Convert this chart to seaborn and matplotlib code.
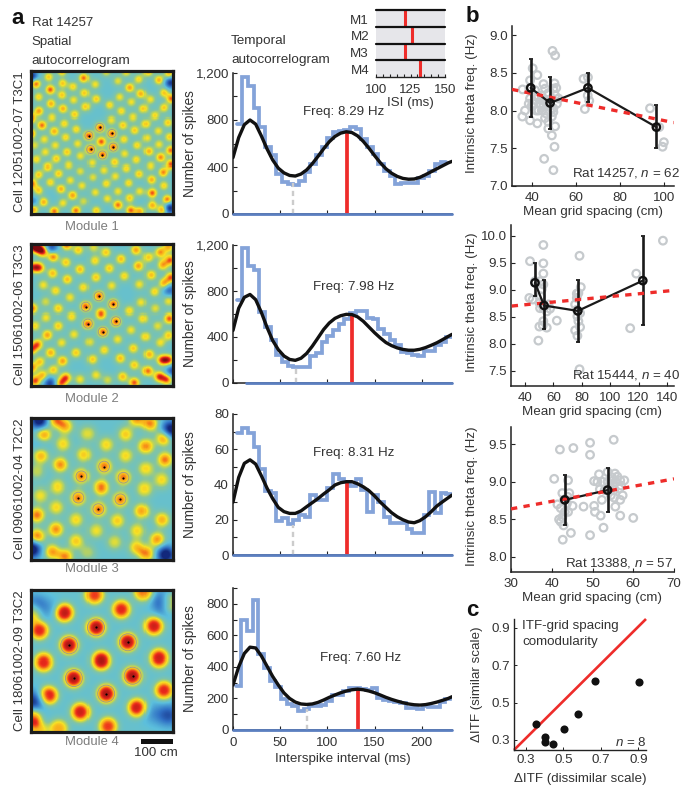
import numpy as np
import matplotlib
matplotlib.use("Agg")
import matplotlib.pyplot as plt
from matplotlib.colors import LinearSegmentedColormap
from matplotlib.ticker import MultipleLocator
import seaborn as sns

W, H = 681, 786

# spatial autocorrelograms: peaks (x, y, height), map pixels x3
m1_origin = (22, 20)
m1_peaks = [(37,58,1.0),(80,76,1.0),(180,41,.95),(115,20,.85),(75,38,.7),(117,57,.7),(148,67,.65),(212,60,.6),(280,50,.55),(315,70,.85),
    (342,45,.65),(400,47,.8),(430,28,.8),(368,22,.8),(305,22,.7),(245,22,.6),(45,98,.65),(115,92,.7),(182,86,.7),(215,104,.7),
    (285,98,.6),(348,88,.8),(415,85,.7),(437,103,.95),(375,105,.6),(82,118,.8),(150,107,.6),(255,122,.65),(320,113,.6),(46,140,.85),
    (118,133,.8),(185,127,.7),(290,140,.65),(355,133,.7),(415,130,.7),(22,160,1),(85,158,.6),(153,150,.7),(260,165,.6),(325,157,.6),
    (388,153,.65),(427,172,.7),(55,180,.95),(122,175,.65),(295,180,.7),(362,176,.7),(158,192,.65),(22,205,1),(92,198,.8),(330,195,.7),
    (398,197,.6),(62,222,.6),(126,216,.65),(298,222,.65),(365,218,.6),(432,215,.7),(162,235,.6),(32,240,.55),(95,240,.6),(337,240,.65),
    (400,237,.6),(65,260,.6),(130,260,.7),(300,265,.6),(370,258,.8),(435,255,.95),(170,272,.6),(38,282,.65),(98,280,.7),(405,276,.9),
    (335,283,.65),(203,292,.6),(270,290,.7),(436,296,1),(72,303,.75),(135,298,.6),(375,300,.6),(305,307,.65),(238,312,.6),(45,325,.7),
    (105,322,.7),(170,315,.55),(343,323,.7),(413,318,.9),(205,333,.55),(272,330,.6),(80,348,.65),(140,342,.6),(378,340,.8),(25,352,.95),
    (312,350,.65),(245,352,.65),(175,358,.6),(415,358,.65),(112,368,.8),(45,372,.7),(280,375,.6),(345,375,.6),(212,378,.6),(147,387,.85),
    (380,380,1),(25,395,.6),(60,407,.8),(248,397,.6),(118,410,.6),(180,405,.5),(315,395,.7),(425,400,1),(280,416,.95),(380,417,.8),
    (30,430,.85),(92,435,.95),(157,433,.95),(215,433,.7),(318,432,.95),(345,435,.8),(410,430,.9)]
m1_rings = [(230,229),(226,187),(262,205),(266,245),(234,268),(199,252),(194,211)]
m1_dips = [(25,35,-.9),(435,55,-.9),(432,425,-1.),(25,400,-.8)]

m2_origin = (23, 22)
m2_peaks = [(45,35,1.0),(60,45,1),(30,30,1),(130,25,.95),(90,60,.95),(165,40,.7),(208,32,.55),(245,47,.7),(335,40,.85),(405,47,.85),
    (370,62,.7),(430,30,.8),(435,70,.95),(128,77,.7),(212,72,.65),(290,67,.75),(342,88,.85),(412,85,.8),(28,92,.9),(48,93,1),
    (88,110,.75),(170,98,.75),(255,95,.7),(300,118,.65),(378,115,.75),(437,122,.95),(132,128,.75),(215,122,.7),(417,140,.85),(60,145,.6),
    (180,152,.65),(262,147,.6),(345,143,.6),(388,165,.65),(97,162,.65),(140,182,.6),(350,197,.6),(430,193,.6),(67,195,.5),(27,215,.95),
    (105,215,.7),(315,222,.65),(390,215,.55),(145,237,.65),(68,240,.6),(355,243,.65),(432,243,1),(105,265,.7),(35,265,.65),(397,265,.55),
    (320,277,.6),(152,290,.6),(72,292,.85),(430,293,.7),(362,297,.65),(197,313,.55),(115,315,.6),(280,305,.6),(405,315,.6),(43,320,.9),
    (327,332,.7),(240,337,.65),(158,345,.7),(25,335,.9),(82,345,.8),(372,350,.8),(288,362,.75),(205,365,.7),(118,370,.85),(410,367,1),
    (430,367,1),(50,372,.7),(25,390,.9),(330,382,.7),(90,397,.7),(368,400,.95),(215,412,.6),(295,417,.75),(58,413,.75),(128,420,.95),
    (250,427,.5),(402,417,1.05),(425,425,1),(330,435,1),(112,437,.9),(35,430,1),(170,425,.6)]
m2_rings = [(230,230),(224,178),(267,202),(275,252),(236,283),(192,259),(186,209)]
m2_dips = [(85,32,-.7),(80,437,-.8),(432,160,-.6),(440,400,-.7)]

m3_origin = (97, 55)
m3_peaks = [(135,105,.95),(265,102,.55),(378,104,.7),(490,115,1),(170,60,.9),(200,80,.8),(410,58,.85),(450,72,.9),(193,133,.65),(320,135,.65),
    (437,140,.9),(127,168,.8),(255,165,.7),(378,168,.65),(493,180,.95),(185,195,.9),(437,207,.65),(125,285,.6),(115,215,.45),(177,260,.65),
    (483,240,.65),(433,266,.65),(173,320,.65),(425,331,.85),(115,343,.95),(232,357,.65),(353,360,.7),(484,357,.8),(172,386,.9),(290,390,.6),
    (412,390,.65),(470,417,.9),(115,408,1),(232,421,.7),(345,424,.55),(160,453,.85),(200,468,.9),(410,440,.7),(440,460,.85),(265,455,.4)]
m3_rings = [(305,262),(314,200),(371,233),(362,297),(297,326),(238,292),(247,229)]
m3_dips = [(122,62,-1.2),(100,445,-1.3),(510,90,-1.2),(495,462,-1.2),(125,130,-.2)]

m4_origin = (97, 572)
m4_peaks = [(197,640,1.05),(365,630,.95),(122,693,.95),(460,680,1.0),(285,587,.9),(135,787,.95),(475,775,1.0),(150,885,1.0),(490,870,.95),(245,935,1.0),
    (412,922,1.02),(325,978,.9),(100,950,.9),(508,610,.9),(100,640,.8),(430,578,.8),(180,985,.7),(120,990,.6)]
m4_rings = [(305,782),(290,684),(384,728),(398,827),(320,880),(225,834),(211,737)]
m4_dips = [(102,905,-.9),(490,610,-.9),(110,620,-.6),(505,945,-.7),(150,625,-.2),(460,940,-.3)]

module_peaks = [m1_peaks, m2_peaks, m3_peaks, m4_peaks]
module_rings = [m1_rings, m2_rings, m3_rings, m4_rings]
module_dips = [m1_dips, m2_dips, m3_dips, m4_dips]
module_origins = [m1_origin, m2_origin, m3_origin, m4_origin]
module_sigmas = [3.5, 3.9, 5.6, 7.0]
module_shapes = [1.0, 1.0, 1.1, 1.4]
module_gains = [.86, .86, .85, 1.0]
module_ring_sizes = [33, 42, 60, 150]
module_ring_heights = [1.0, 1.0, .95, 1.08]
cell_names = ["Cell 12051002-07 T3C1", "Cell 15061002-06 T3C3", "Cell 09061002-04 T2C2", "Cell 18061002-09 T3C2"]

# temporal autocorrelograms
curve_t = [0,6,12,18,24,30,36,42,48,54,60,66,72,78,84,90,96,102,108,114,120,126,132,138,144,150,156,162,168,174,180,186,192,198,204,210,216,222,228,232]
curve_1 = [480,650,760,800,765,665,555,460,390,350,328,323,340,375,428,490,555,615,660,688,700,693,665,618,560,497,437,385,347,320,303,296,298,312,335,360,385,410,435,448]
curve_2 = [457,650,745,770,725,615,485,370,290,235,205,197,215,257,320,392,465,522,562,585,597,595,575,537,487,437,392,352,325,305,292,285,285,293,308,328,350,377,405,423]
curve_3 = [30,44,52,54,51.6,45,38,32,27,24.6,23.6,23.6,25,27.4,29.7,32,34.6,37,39.7,41,41.6,41.6,40.4,38.7,36.5,33.5,30,27,24,21.7,20,18.7,18.3,19.5,21.7,24.6,27.8,30.2,32.5,34]
curve_4 = [285,400,485,525,520,470,405,340,285,235,200,177,165,162,165,175,190,207,222,236,247,255,259,255,247,236,222,207,194,183,173,165,160,158,161,168,177,188,200,211]

hist_1 = [770,1170,1090,900,740,570,500,340,275,255,250,285,355,425,500,570,650,700,710,715,740,725,640,570,510,425,370,325,255,260,260,260,310,325,370,425,440]
hist_2 = [720,1170,1020,985,615,485,370,243,185,150,143,143,143,235,263,357,405,457,515,557,605,628,628,565,557,470,430,370,330,270,257,243,235,280,280,330,357,400]
hist_3 = [69,72,69,61,49,36.5,35,19.5,21,17.5,20,22.7,21.4,34,31,31,38,46,43,41.6,39,43,37,24.6,34,30,21.7,18,18,18,14.7,12.7,12.7,22.7,36,23.6,35,34.6]
hist_4 = [280,695,628,827,480,390,310,275,194,162,152,120,130,152,152,158,186,221,221,249,264,264,257,253,264,200,190,186,179,169,141,141,135,152,148,143,179,194]
hist_starts = [4, 4, 4, 3]
bin_width = 6

peak_isi = [121, 126, 121, 132.5]
peak_heights = [700, 597, 41.6, 259]
trough_isi = [64, 67, 64, 78]
trough_heights = [260, 140, 17, 130]
freq_labels = ["Freq: 8.29 Hz", "Freq: 7.98 Hz", "Freq: 8.31 Hz", "Freq: 7.60 Hz"]
spike_ymax = [1200, 1200, 80, 900]
spike_major = [400, 400, 20, 200]
spike_minor = [200, 200, 10, 100]

# inset
inset_labels = ["M1", "M2", "M3", "M4"]
inset_isi = [121, 126, 121, 132]

# panel b
b1_x = [49.3,50.5,40.3,42.4,35.7,39.1,38.8,45.2,50.2,49.7,45.9,41.4,44.4,47.4,50.5,52.0,44.1,47.4,39.1,40.6,36.8,42.9,49.7,35.6,39.1,42.4,46.4,49.0,47.4,50.5,47.4,49.0,50.2,45.5,49.7,
        47.7,45.2,39.8,43.6,46.7,48.2,49.7,45.9,41.4,38.5,47.9,49.0,51.3,42.9,45.2,41.9,44.4,63.4,65.4,66.0,64.0,65.3,93.6,99.9,99.3,97.8,51.0]
b1_y = [8.79,8.73,8.56,8.47,8.28,8.40,8.29,8.35,8.36,8.29,8.29,8.27,8.20,8.23,8.20,8.16,8.14,8.14,8.16,8.09,8.00,8.00,8.03,7.92,7.87,7.83,7.96,7.92,7.85,7.79,7.76,7.67,7.52,7.36,7.21,
        8.06,8.07,8.06,8.09,8.06,8.00,7.98,7.90,8.19,8.09,8.09,8.16,8.09,8.19,8.14,8.00,8.00,8.42,8.44,8.13,8.02,8.20,8.03,7.58,7.52,7.78,8.30]
b2_x = [52.9,137.2,43.5,52.9,52.9,78.4,118.4,50.6,47,79.3,76.5,76.5,43,52.9,51.8,75.3,50.6,52.9,56.5,57.6,55.3,62.4,52.9,50.1,55.3,52.5,77.6,78.8,75.3,76.9,49.4,114.1,78.4,50.1,76.5,78.8,76.9,45.4,77.6,51.1]
b2_y = [9.83,9.91,9.53,9.49,9.30,9.63,9.30,9.16,9.16,9.05,8.93,8.85,8.85,9.10,9.01,8.73,8.66,8.66,8.73,8.65,8.60,8.43,8.42,8.32,8.30,8.34,8.42,8.31,8.25,8.15,8.06,8.29,7.53,8.76,8.63,8.57,8.51,8.82,8.94,8.88]
b3_x = [42.0,45.3,49.4,49.4,55.2,40.6,44,51.6,53.7,55.5,50.4,51.2,52.5,54.5,56.1,56.8,57.8,42.6,44.3,57.4,55.3,56.8,52.3,41.4,45.1,47.8,50.4,55.6,42.2,44,50.6,52,56.8,60,41.8,42.6,42.2,42.9,52.7,44.7,49.4,42.7,43,43.7,53.7,54.3,55.7,54.5,53,55.3,56.6,57.0,54.8,43.2,43.9,55.0,51.8]
b3_y = [9.43,9.45,9.52,9.36,9.56,9.04,9.02,9.10,9.13,9.11,9.01,9.0,9.0,9.01,9.07,9.02,9.02,8.85,8.85,8.82,8.79,8.76,8.76,8.70,8.68,8.67,8.68,8.67,8.65,8.60,8.60,8.55,8.55,8.52,8.50,8.53,8.47,8.42,8.39,8.32,8.29,8.23,8.76,8.71,9.0,8.89,9.0,8.82,8.89,8.89,8.91,8.95,9.06,8.60,8.80,8.95,8.90]

b1_mean_x = [39.4, 48.2, 65.4, 96.5]
b1_mean_y = [8.30, 8.10, 8.30, 7.78]
b1_err_lo = [7.91, 7.76, 8.11, 7.50]
b1_err_hi = [8.68, 8.45, 8.50, 8.07]
b2_mean_x = [47, 53.4, 77.2, 123]
b2_mean_y = [9.13, 8.71, 8.61, 9.17]
b2_err_lo = [8.88, 8.27, 8.04, 8.34]
b2_err_hi = [9.49, 9.18, 9.18, 9.99]
b3_mean_x = [43.2, 53.7]
b3_mean_y = [8.76, 8.89]
b3_err_lo = [8.42, 8.60]
b3_err_hi = [9.09, 9.19]

b1_fit_x, b1_fit_y = [30.9, 104.4], [8.28, 7.84]
b2_fit_x, b2_fit_y = [30.6, 145], [8.70, 8.99]
b3_fit_x, b3_fit_y = [30, 70], [8.64, 9.04]

b_titles = ["Rat 14257, $\\mathit{n}$ = 62", "Rat 15444, $\\mathit{n}$ = 40", "Rat 13388, $\\mathit{n}$ = 57"]

# panel c
c_x = [0.352, 0.40, 0.402, 0.446, 0.502, 0.58, 0.671, 0.905]
c_y = [0.384, 0.314, 0.289, 0.279, 0.361, 0.4375, 0.616, 0.609]

TEXT = "#333333"
RED = "#ee2c2a"
BLUE = "#84a3d9"
GRAY = "#c6cacd"

sns.set_theme(style="ticks")
plt.rcParams["font.family"] = ["Liberation Sans", "DejaVu Sans"]
plt.rcParams["mathtext.fontset"] = "custom"
plt.rcParams["mathtext.it"] = "Liberation Sans:italic"
plt.rcParams["mathtext.rm"] = "Liberation Sans"
plt.rcParams["font.size"] = 9.6
plt.rcParams["axes.labelsize"] = 9.6
plt.rcParams["xtick.labelsize"] = 9.6
plt.rcParams["ytick.labelsize"] = 9.6
plt.rcParams["text.color"] = TEXT
plt.rcParams["axes.labelcolor"] = TEXT
plt.rcParams["xtick.labelcolor"] = TEXT
plt.rcParams["ytick.labelcolor"] = TEXT

fig = plt.figure(figsize=(W / 100, H / 100), dpi=100)


def px_axes(left, top, right, bottom):
    return fig.add_axes([left / W, 1 - bottom / H, (right - left) / W, (bottom - top) / H])


def put(x, y, s, **kw):
    kw.setdefault("va", "center")
    fig.text(x / W, 1 - y / H, s, **kw)


map_cmap = LinearSegmentedColormap.from_list("map", [
    (0.00, "#12287c"), (0.20, "#2f6fc4"), (0.42, "#5cbfdc"), (0.55, "#84c4a0"),
    (0.635, "#c4d650"), (0.69, "#f6e126"), (0.78, "#f9ab1a"), (0.875, "#ec2a1c"), (1.00, "#7e0a10")])


def build_field(i):
    origin = module_origins[i]
    sigma = module_sigmas[i]
    cells = np.arange(140) + 0.5
    xx, yy = np.meshgrid(cells, cells)
    field = np.zeros_like(xx)
    rings = [(r[0], r[1], module_ring_heights[i]) for r in module_rings[i]]
    for px, py, amp in module_peaks[i] + rings:
        cx, cy = (px - origin[0]) / 3, (py - origin[1]) / 3
        d2 = ((xx - cx) ** 2 + (yy - cy) ** 2) / (2 * sigma ** 2)
        field += module_gains[i] * amp * np.exp(-d2 ** module_shapes[i])
    for px, py, amp in module_dips[i]:
        cx, cy = (px - origin[0]) / 3, (py - origin[1]) / 3
        field += amp * np.exp(-((xx - cx) ** 2 + (yy - cy) ** 2) / (2 * (sigma * 1.1) ** 2))
    return field


map_boxes = [(30.5, 70.5, 173, 213.5), (30.5, 243.5, 173, 385.5), (30.5, 417.5, 173, 559.5), (30.5, 589.5, 173, 731.5)]
module_label_y = [227, 399, 569, 742]
for i, box in enumerate(map_boxes):
    ax = px_axes(*box)
    sns.heatmap(build_field(i), ax=ax, cmap=map_cmap, vmin=-1.0, vmax=1.2, cbar=False, xticklabels=False, yticklabels=False)
    rx = [(r[0] - module_origins[i][0]) / 3 for r in module_rings[i]]
    ry = [(r[1] - module_origins[i][1]) / 3 for r in module_rings[i]]
    ax.scatter(rx[1:], ry[1:], s=module_ring_sizes[i], facecolor="none", edgecolor="#a09c88", linewidth=0.7)
    ax.scatter(rx[1:], ry[1:], s=2.5, color="black", linewidth=0)
    for side in ax.spines.values():
        side.set_visible(True)
        side.set_color("#1c1c1c")
        side.set_linewidth(2.3)
    ax.set_ylabel(cell_names[i], fontsize=9.5, labelpad=0)
    ax.yaxis.set_label_coords(-0.03, 0.5)
    put(92, module_label_y[i], "Module %d" % (i + 1), ha="center", color="#7d7d7d", fontsize=9.4)

# scale bar
scale_ax = px_axes(141, 739, 173, 744)
scale_ax.set_facecolor("#111111")
scale_ax.set_xticks([])
scale_ax.set_yticks([])
sns.despine(ax=scale_ax, left=True, bottom=True)
put(156, 753, "100 cm", ha="center", fontsize=9.6)

# spike panels
spike_boxes = [(233, 73, 452, 214), (233, 245, 452, 383), (233, 414, 452, 555), (233, 588, 452, 730)]
curves = [curve_1, curve_2, curve_3, curve_4]
hists = [hist_1, hist_2, hist_3, hist_4]
freq_pos = [(344, 112), (354, 287), (354, 453), (361, 658)]
for i, box in enumerate(spike_boxes):
    ax = px_axes(*box)
    edges = [min(hist_starts[i] + bin_width * k, 232) for k in range(len(hists[i]) + 1)]
    sns.lineplot(x=edges, y=hists[i] + hists[i][-1:], ax=ax, color=BLUE, linewidth=2.7, drawstyle="steps-post",
                 estimator=None, sort=False, solid_joinstyle="miter")
    ax.axhline(0, xmin=0 if i != 1 else 0.06, color="#5b7fc0", linewidth=2.0, zorder=6, clip_on=False)
    ax.plot([peak_isi[i]] * 2, [0, peak_heights[i]], color=RED, linewidth=2.7, solid_capstyle="butt", zorder=4)
    ax.plot([trough_isi[i]] * 2, [0, trough_heights[i]], color="#cccccc", linewidth=1.7, linestyle=(0, (2.2, 1.6)), zorder=3)
    sns.lineplot(x=curve_t, y=curves[i], ax=ax, color="#111111", linewidth=2.4, estimator=None, sort=False, zorder=5)
    ax.set_xlim(0, 232)
    ax.set_ylim(0, spike_ymax[i])
    ax.xaxis.set_major_locator(MultipleLocator(50))
    ax.yaxis.set_major_locator(MultipleLocator(spike_major[i]))
    ax.yaxis.set_minor_locator(MultipleLocator(spike_minor[i]))
    ax.yaxis.set_major_formatter(lambda v, pos: "{:,.0f}".format(v))
    ax.tick_params(axis="both", which="both", direction="in", length=2.6, width=0.8, color="#222222", pad=3)
    ax.tick_params(axis="x", pad=5)
    if i < 3:
        ax.tick_params(axis="x", labelbottom=False)
    else:
        ax.set_xlabel("Interspike interval (ms)", labelpad=3, fontsize=9.6)
    for name in ["left", "bottom"]:
        ax.spines[name].set_linewidth(1.1)
        ax.spines[name].set_color("#222222")
    sns.despine(ax=ax)
    ax.set_ylabel("Number of spikes", labelpad=0, fontsize=9.9)
    ax.yaxis.set_label_coords(-0.164, 0.5)
    put(freq_pos[i][0], freq_pos[i][1], freq_labels[i], ha="center")

# inset
inset = px_axes(376, 10, 445, 77)
inset.set_facecolor("#e6e6ea")
inset.set_xlim(100, 150)
inset.set_ylim(4, 0)
for r in range(4):
    inset.axhline(r, color="#111111", linewidth=1.6, zorder=3, clip_on=False)
    inset.plot([inset_isi[r]] * 2, [r, r + 1], color=RED, linewidth=2.2, solid_capstyle="butt", zorder=2)
inset.set_yticks([0.55, 1.55, 2.55, 3.55], inset_labels)
inset.set_xticks([100, 125, 150])
inset.xaxis.set_minor_locator(MultipleLocator(5))
inset.tick_params(axis="y", length=0, pad=5)
inset.tick_params(axis="x", which="both", direction="in", length=2.2, width=0.8, color="#222222", pad=5)
inset.set_xlabel("ISI (ms)", labelpad=1)
for name in ["left", "right", "top"]:
    inset.spines[name].set_visible(False)
inset.spines["bottom"].set_linewidth(1.0)
inset.spines["bottom"].set_color("#222222")

# panel b
b_boxes = [(512, 26, 674, 186), (511, 225, 674, 386), (511, 427, 674, 572)]
b_xlims = [(30.9, 104.5), (30.1, 145), (30, 70)]
b_ylims = [(7.0, 9.12), (7.22, 10.2), (7.8, 9.73)]
b_xticks = [[40, 60, 80, 100], [40, 60, 80, 100, 120, 140], [30, 40, 50, 60, 70]]
b_yticks = [[7.0, 7.5, 8.0, 8.5, 9.0], [7.5, 8.0, 8.5, 9.0, 9.5, 10.0], [8.0, 8.5, 9.0, 9.5]]
b_scatter = [(b1_x, b1_y), (b2_x, b2_y), (b3_x, b3_y)]
b_means = [(b1_mean_x, b1_mean_y, b1_err_lo, b1_err_hi), (b2_mean_x, b2_mean_y, b2_err_lo, b2_err_hi), (b3_mean_x, b3_mean_y, b3_err_lo, b3_err_hi)]
b_fits = [(b1_fit_x, b1_fit_y), (b2_fit_x, b2_fit_y), (b3_fit_x, b3_fit_y)]
b_title_pos = [(680, 173), (680, 375), (673, 563)]
for i, box in enumerate(b_boxes):
    ax = px_axes(*box)
    sx, sy = b_scatter[i]
    sns.scatterplot(x=sx, y=sy, ax=ax, s=30, facecolor="none", edgecolor=GRAY, linewidth=1.6, zorder=1, clip_on=False)
    fx, fy = b_fits[i]
    ax.plot(fx, fy, color=RED, linewidth=2.4, linestyle=(0, (1.9, 1.9)), zorder=4)
    mx, my, lo, hi = b_means[i]
    sns.lineplot(x=mx, y=my, ax=ax, color="#1a1a1a", linewidth=1.6, estimator=None, sort=False, zorder=3)
    ax.errorbar(mx, my, yerr=[np.array(my) - np.array(lo), np.array(hi) - np.array(my)], fmt="none", ecolor="#1a1a1a",
                elinewidth=1.9, capsize=1.3, capthick=1.3, zorder=3)
    ax.scatter(mx, my, s=28, facecolor="none", edgecolor="#111111", linewidth=1.7, zorder=5)
    ax.set_xlim(*b_xlims[i])
    ax.set_ylim(*b_ylims[i])
    ax.set_xticks(b_xticks[i])
    ax.set_yticks(b_yticks[i])
    ax.yaxis.set_major_formatter("{x:.1f}")
    ax.tick_params(axis="both", direction="in", length=2.6, width=0.8, color="#222222", pad=3)
    ax.tick_params(axis="x", pad=4)
    for name in ["left", "bottom"]:
        ax.spines[name].set_linewidth(1.1)
        ax.spines[name].set_color("#222222")
    sns.despine(ax=ax)
    ax.set_xlabel("Mean grid spacing (cm)", labelpad=2)
    ax.set_ylabel("Intrinsic theta freq. (Hz)", labelpad=0)
    ax.yaxis.set_label_coords((478 - box[0]) / (box[2] - box[0]), 0.52)
    put(b_title_pos[i][0], b_title_pos[i][1], b_titles[i], ha="right")

# panel c
cax = px_axes(514, 619, 646, 750)
cax.plot([0.236, 0.941], [0.246, 0.948], color=RED, linewidth=1.9, solid_capstyle="butt", zorder=2, clip_on=False)
sns.scatterplot(x=c_x, y=c_y, ax=cax, s=34, color="#111111", linewidth=0, zorder=3)
cax.set_xlim(0.236, 0.941)
cax.set_ylim(0.246, 0.948)
cax.set_xticks([0.3, 0.5, 0.7, 0.9])
cax.set_yticks([0.3, 0.5, 0.7, 0.9])
cax.xaxis.set_major_formatter("{x:.1f}")
cax.yaxis.set_major_formatter("{x:.1f}")
cax.tick_params(axis="both", direction="in", length=2.0, width=0.7, color="#222222", pad=3)
for name in ["left", "bottom"]:
    cax.spines[name].set_linewidth(1.0)
    cax.spines[name].set_color("#222222")
sns.despine(ax=cax)
cax.set_xlabel("\u0394ITF (dissimilar scale)", labelpad=5)
cax.set_ylabel("\u0394ITF (similar scale)", labelpad=0)
cax.yaxis.set_label_coords((483 - 514) / 132, 0.5)
put(522, 626, "ITF-grid spacing")
put(522, 642, "comodularity")
put(647, 742, "$\\mathit{n}$ = 8", ha="right")

# headers
put(32, 23, "Rat 14257", fontsize=9.5)
put(31, 42, "Spatial", fontsize=9.5)
put(31, 61, "autocorrelogram", fontsize=9.7)
put(231, 41, "Temporal", fontsize=9.7)
put(231, 60, "autocorrelogram", fontsize=9.7)
put(18, 18, "a", fontsize=16, fontweight="bold", color="#111111", ha="center")
put(472, 17, "b", fontsize=16, fontweight="bold", color="#111111", ha="center")
put(472, 610, "c", fontsize=16, fontweight="bold", color="#111111", ha="center")

fig.savefig("out.png", dpi=100)
